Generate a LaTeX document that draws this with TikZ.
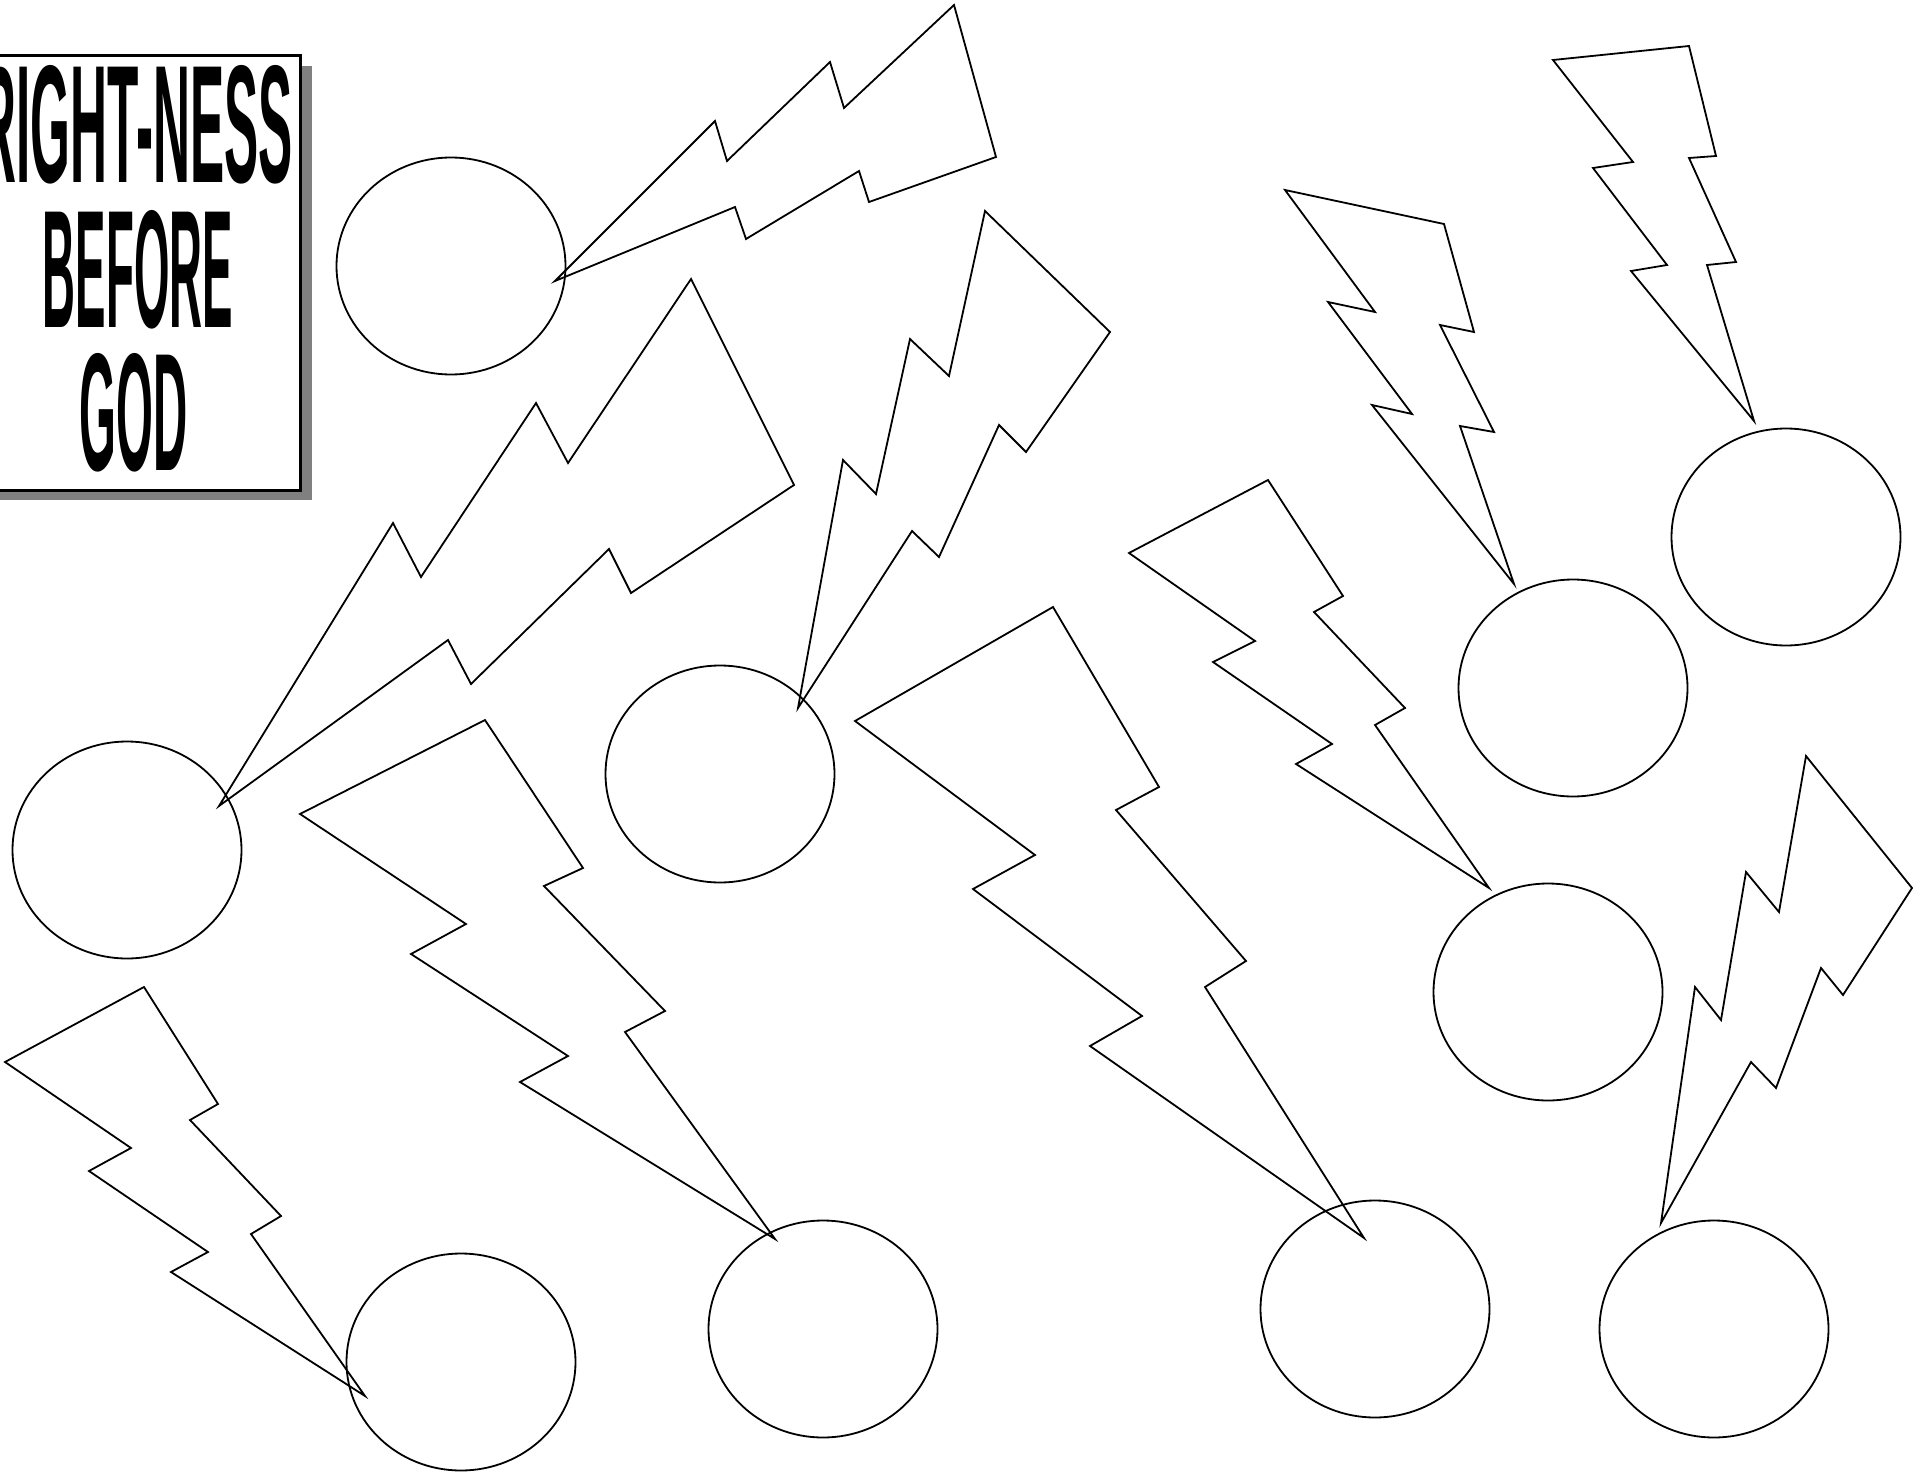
\documentclass[tikz,border=0pt]{standalone}
\usepackage{fontspec}
\usepackage{graphicx}
\newfontfamily\titlefont{Liberation Sans}
\usetikzlibrary{shapes.geometric}
\tikzset{
  blob/.style={ellipse, draw, line width=1.8pt, minimum width=229pt, minimum height=217pt, inner sep=0pt},
  bolt/.style={draw, line width=1.8pt, line join=miter},
  titletext/.style={inner sep=0pt, anchor=north}
}
\begin{document}
\begin{tikzpicture}[x=1pt,y=-1pt]
\useasboundingbox (0,0) rectangle (1923,1477);
% title box
\fill[black!50] (-10,66) rectangle (312,500);
\draw[fill=white, line width=3pt] (-20,56) rectangle (300.5,490);
\node[titletext] (t1) at (136,65) {\resizebox{313pt}{117pt}{\titlefont\bfseries RIGHT-NESS}};
\node[titletext] (t2) at (138,210) {\resizebox{190pt}{117pt}{\titlefont\bfseries BEFORE}};
\node[titletext] (t3) at (134,353) {\resizebox{108pt}{117pt}{\titlefont\bfseries GOD}};
% circles
\node[blob] (c1) at (451,266) {};
\node[blob] (c2) at (127,850) {};
\node[blob] (c3) at (720,774) {};
\node[blob] (c4) at (1786,537) {};
\node[blob] (c5) at (1573,688) {};
\node[blob] (c6) at (1548,992) {};
\node[blob] (c7) at (461,1362) {};
\node[blob] (c8) at (823,1329) {};
\node[blob] (c9) at (1375,1309) {};
\node[blob] (c10) at (1714,1329) {};
% bolts
\draw[bolt] (555,281) -- (715,121) -- (727,161) -- (830,62) -- (844,108) -- (954,5) -- (996,157) -- (869,202) -- (859,171) -- (746,239) -- (735,207) -- cycle;
\draw[bolt] (219,806) -- (393,523) -- (421,577) -- (536,403) -- (568,463) -- (691,279) -- (794,485) -- (631,593) -- (609,549) -- (471,684) -- (448,640) -- cycle;
\draw[bolt] (798,708) -- (843,460) -- (876,494) -- (910,339) -- (949,376) -- (985,211) -- (1110,332) -- (1026,452) -- (999,425) -- (939,557) -- (912,531) -- cycle;
\draw[bolt] (1285,190) -- (1444,224) -- (1474,332) -- (1440,325) -- (1494,432) -- (1460,426) -- (1514,584) -- (1372,405) -- (1412,414) -- (1328,302) -- (1375,312) -- cycle;
\draw[bolt] (1553,60) -- (1689,46) -- (1716,156) -- (1689,158) -- (1736,262) -- (1707,265) -- (1754,421) -- (1631,271) -- (1667,265) -- (1593,168) -- (1633,162) -- cycle;
\draw[bolt] (1129,553) -- (1268,480) -- (1343,596) -- (1314,612) -- (1405,708) -- (1375,725) -- (1489,888) -- (1296,764) -- (1332,744) -- (1213,662) -- (1255,641) -- cycle;
\draw[bolt] (855,721) -- (1053,607) -- (1159,787) -- (1116,810) -- (1246,961) -- (1205,987) -- (1364,1238) -- (1090,1046) -- (1142,1016) -- (973,889) -- (1035,855) -- cycle;
\draw[bolt] (300,814) -- (485,720) -- (583,868) -- (544,886) -- (665,1011) -- (625,1032) -- (775,1239) -- (520,1082) -- (568,1056) -- (411,954) -- (466,924) -- cycle;
\draw[bolt] (5,1062) -- (144,987) -- (218,1104) -- (190,1120) -- (281,1216) -- (251,1234) -- (365,1396) -- (171,1272) -- (208,1252) -- (89,1171) -- (131,1148) -- cycle;
\draw[bolt] (1661,1223) -- (1695,987) -- (1721,1020) -- (1746,872) -- (1779,912) -- (1806,756) -- (1912,888) -- (1843,995) -- (1821,968) -- (1776,1088) -- (1751,1062) -- cycle;
\end{tikzpicture}
\end{document}
